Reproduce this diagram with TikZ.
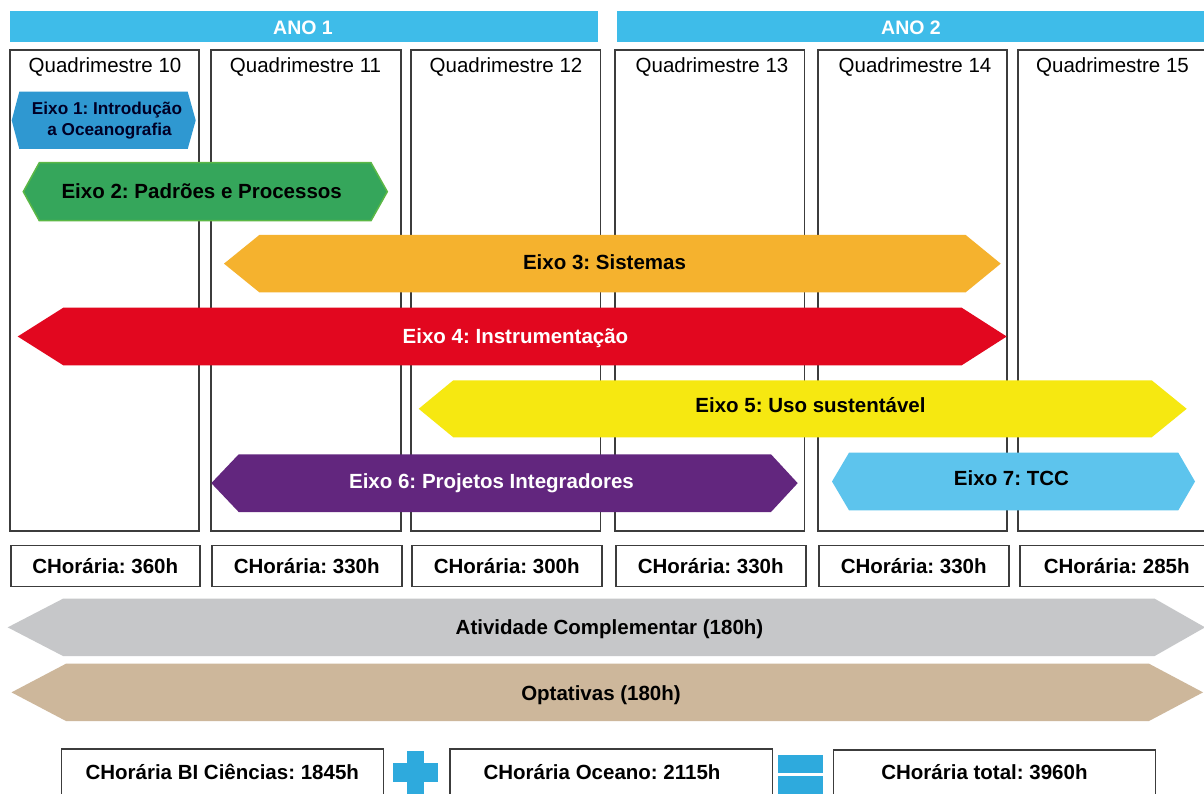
\documentclass[tikz,border=0pt]{standalone}
\usepackage{fontspec}
\setmainfont{Liberation Sans}
\frenchspacing
\definecolor{hdr}{HTML}{3EBCE9}
\definecolor{cE1}{HTML}{2F98D1}
\definecolor{cE2}{HTML}{35A65B}
\definecolor{cE2b}{HTML}{5BB846}
\definecolor{cE3}{HTML}{F5B22E}
\definecolor{cE4}{HTML}{E2071F}
\definecolor{cE5}{HTML}{F6E811}
\definecolor{cE6}{HTML}{62267E}
\definecolor{cE7}{HTML}{5DC4ED}
\definecolor{cAC}{HTML}{C6C7C9}
\definecolor{cOP}{HTML}{CDB79B}
\definecolor{cSym}{HTML}{2EAADD}
\definecolor{lineC}{HTML}{3C3C3C}
% #1 fill options, #2 left tip x, #3 left corner x, #4 right corner x, #5 right tip x, #6 top y, #7 bottom y
\newcommand\hexband[7]{%
  \path[#1] (#2,{(#6+#7)/2}) -- (#3,#6) -- (#4,#6) -- (#5,{(#6+#7)/2}) -- (#4,#7) -- (#3,#7) -- cycle;}
\begin{document}
\frenchspacing
\begin{tikzpicture}[x=1pt,y=-1pt,
  colbox/.style={draw=lineC, line width=1.5pt},
  qlab/.style={anchor=base, inner sep=0pt, font=\fontsize{20.5}{24}\selectfont},
  blab/.style={anchor=base, inner sep=0pt, font=\bfseries\fontsize{20.5}{24}\selectfont},
  slab/.style={anchor=base, inner sep=0pt, text=black!85!blue, font=\bfseries\fontsize{17.2}{21}\selectfont},
  hlab/.style={anchor=base, inner sep=0pt, text=white, font=\bfseries\fontsize{19.5}{23}\selectfont},
  chbox/.style={draw=lineC, line width=1.5pt, anchor=north west, inner sep=0pt,
     text height=15pt, text depth=0pt, font=\bfseries\fontsize{20.5}{24}\selectfont},
  totbox/.style={draw=lineC, line width=1.5pt, anchor=north west, inner sep=0pt,
     text height=15pt, text depth=9pt, font=\bfseries\fontsize{20.5}{24}\selectfont},
]
\clip (0,0) rectangle (1204,794);
\fill[white] (0,0) rectangle (1204,794);

% year headers
\fill[hdr] (10,11) rectangle (598,42);
\fill[hdr] (617,11) rectangle (1210,42);
\node[hlab] (ano1) at (303,34.3) {ANO 1};
\node[hlab] (ano2) at (911,34.3) {ANO 2};

% quadrimester columns
\draw[colbox] (10,50) rectangle (199,531);
\draw[colbox] (211,50) rectangle (401,531);
\draw[colbox] (411,50) rectangle (600.5,531);
\draw[colbox] (615,50) rectangle (804.5,531);
\draw[colbox] (818,50) rectangle (1007,531);
\draw[colbox] (1018,50) rectangle (1214,531);
\node[qlab] (q10) at (105,72.3) {Quadrimestre 10};
\node[qlab] (q11) at (305.5,72.3) {Quadrimestre 11};
\node[qlab] (q12) at (506,72.3) {Quadrimestre 12};
\node[qlab] (q13) at (712,72.3) {Quadrimestre 13};
\node[qlab] (q14) at (915,72.3) {Quadrimestre 14};
\node[qlab] (q15) at (1112.5,72.3) {Quadrimestre 15};

% axes
\hexband{fill=cE1}{11.7}{19.3}{187.7}{195.7}{91.7}{149}
\node[slab] (e1a) at (107,115) {Eixo 1: Introdução};
\node[slab] (e1b) at (109.5,136) {a Oceanografia};

\hexband{fill=cE2, draw=cE2b, line width=1.5pt}{23.3}{39.3}{371}{387.3}{162.7}{220.7}
\node[blab] (e2) at (201.7,198.3) {Eixo 2: Padrões e Processos};

\hexband{fill=cE3}{224}{259.3}{965.7}{1000.7}{235}{292.3}
\node[blab] (e3) at (604.5,269.3) {Eixo 3: Sistemas};

\hexband{fill=cE4}{17.7}{63.3}{961.7}{1006.7}{307.7}{365.3}
\node[blab, text=white] (e4) at (515.5,343.7) {Eixo 4: Instrumentação};

\hexband{fill=cE5}{418.7}{453.3}{1151.7}{1186.7}{380.3}{437.3}
\node[blab] (e5) at (810.5,412.3) {Eixo 5: Uso sustentável};

\hexband{fill=cE6}{211.3}{238.7}{771}{797.7}{454.3}{512}
\node[blab, text=white] (e6) at (491.5,488.7) {Eixo 6: Projetos Integradores};

\hexband{fill=cE7}{832}{849}{1178.3}{1195}{452.7}{510.3}
\node[blab] (e7) at (1011.5,485.7) {Eixo 7: TCC};

% workload per quadrimester
\node[chbox, minimum width=189pt, minimum height=41pt] (ch10) at (10,544.5) {CHorária: 360h};
\node[chbox, minimum width=190pt, minimum height=41pt] (ch11) at (211,544.5) {CHorária: 330h};
\node[chbox, minimum width=190pt, minimum height=41pt] (ch12) at (411,544.5) {CHorária: 300h};
\node[chbox, minimum width=190pt, minimum height=41pt] (ch13) at (615,544.5) {CHorária: 330h};
\node[chbox, minimum width=190pt, minimum height=41pt] (ch14) at (818,544.5) {CHorária: 330h};
\node[chbox, minimum width=194pt, minimum height=41pt] (ch15) at (1019,544.5) {CHorária: 285h};

% complementary bands
\hexband{fill=cAC}{7.7}{63}{1154.7}{1205}{598.7}{656}
\node[blab] (ac) at (609.5,634.3) {Atividade Complementar (180h)};
\hexband{fill=cOP}{11.5}{66}{1149}{1203}{663.7}{721}
\node[blab] (op) at (601,700.3) {Optativas (180h)};

% totals
\node[totbox, minimum width=322pt, minimum height=54pt] (tbi) at (60.5,748.3) {CHorária BI Ciências: 1845h};
\node[totbox, minimum width=322.5pt, minimum height=54pt] (toc) at (449,748.3) {CHorária Oceano: 2115h\hspace*{18pt}};
\node[totbox, minimum width=322pt, minimum height=54pt] (ttot) at (832.7,749) {CHorária total: 3960h\hspace*{20pt}};

% plus sign
\fill[cSym] (406.7,750.7) rectangle (424.3,796);
\fill[cSym] (393.3,763.3) rectangle (438.3,782.3);
% equals sign
\fill[cSym] (777.7,755.3) rectangle (822.7,773.3);
\fill[cSym] (777.7,775.7) rectangle (822.7,793.6);
\end{tikzpicture}
\end{document}
